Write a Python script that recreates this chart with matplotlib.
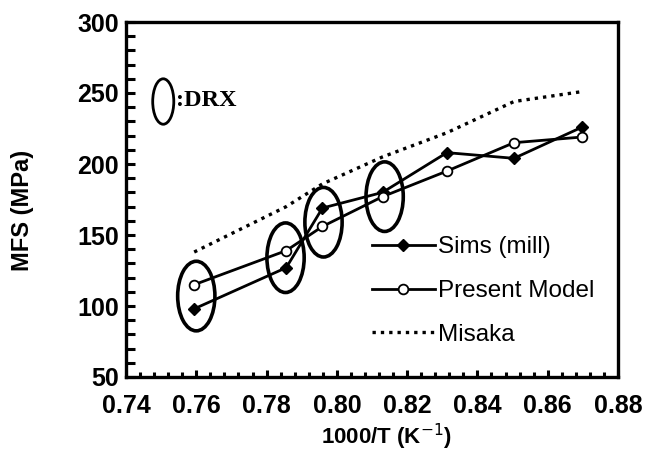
import matplotlib
matplotlib.use("Agg")
import matplotlib.pyplot as plt
from matplotlib.patches import Ellipse
from matplotlib.ticker import MultipleLocator
from matplotlib.lines import Line2D

# Data
inv_T = [0.7594, 0.7856, 0.7959, 0.8130, 0.8313, 0.8504, 0.8698]
sims = [98, 127, 169, 180, 208, 204, 226]
present = [115, 139, 156, 177, 195, 215, 219]
misaka = [138, 170, 186, 205, 222, 244, 251]

# DRX ellipse centres (annotation)
drx_x = [0.7600, 0.7854, 0.7962, 0.8136]
drx_y = [107, 134, 159, 177]

xticks = [0.74, 0.76, 0.78, 0.80, 0.82, 0.84, 0.86, 0.88]
yticks = [50, 100, 150, 200, 250, 300]

plt.rcParams['font.family'] = ['Liberation Sans', 'DejaVu Sans']

fig = plt.figure(figsize=(6.51, 4.55), dpi=100)
ax = fig.add_axes([126/651, 1-377/455, (618-126)/651, (377-22)/455])

dots = (0, (1.0, 1.5))
ax.plot(inv_T, misaka, color='black', lw=2.4, linestyle=dots, label='Misaka', zorder=2)
ax.plot(inv_T, sims, color='black', lw=2.0, marker='D', ms=6, mfc='black', mec='black', label='Sims (mill)', zorder=3)
ax.plot(inv_T, present, color='black', lw=2.0, marker='o', ms=7, mfc='white', mec='black', mew=1.3, label='Present Model', zorder=3)

for cx, cy in zip(drx_x, drx_y):
    ax.add_patch(Ellipse((cx, cy), 0.0106, 49, fill=False, ec='black', lw=2.6, zorder=4))

# DRX key
ax.add_patch(Ellipse((0.7506, 244), 0.006, 32, fill=False, ec='black', lw=2.0))
ax.text(0.7543, 245, ':DRX', family=['Liberation Serif', 'DejaVu Serif'], fontweight='bold',
        fontsize=17.5, va='center', ha='left')

ax.set_xlim(0.74, 0.88)
ax.set_ylim(50, 300)
ax.set_xticks(xticks)
ax.set_xticklabels([f"{v:.2f}" for v in xticks])
ax.set_yticks(yticks)
ax.xaxis.set_minor_locator(MultipleLocator(0.004))
ax.yaxis.set_minor_locator(MultipleLocator(10))
ax.tick_params(axis='both', which='both', direction='in', width=2.2, labelsize=18, top=False, right=False)
ax.tick_params(axis='y', which='both', length=6.5, pad=5)
ax.tick_params(axis='x', which='major', length=5, pad=12)
ax.tick_params(axis='x', which='minor', length=3.5)
for lab in ax.get_xticklabels() + ax.get_yticklabels():
    lab.set_fontweight('bold')
for s in ax.spines.values():
    s.set_linewidth(2.4)

ax.set_ylabel('MFS (MPa)', fontsize=17, fontweight='bold')
ax.yaxis.set_label_coords(-0.186, 0.47)
ax.set_xlabel('1000/T (K$^{-1}$)', fontsize=16, fontweight='bold')
ax.xaxis.set_label_coords(0.53, -0.125)

handles = [
    Line2D([], [], color='black', lw=2.0, marker='D', ms=6, mfc='black'),
    Line2D([], [], color='black', lw=2.0, marker='o', ms=7, mfc='white', mew=1.3),
    Line2D([], [], color='black', lw=2.4, linestyle=dots),
]
leg = ax.legend(handles, ['Sims (mill)', 'Present Model', 'Misaka'], loc='lower left',
                bbox_to_anchor=(0.48, 0.06), frameon=False, fontsize=17.5,
                handlelength=2.6, handletextpad=0.12, labelspacing=0.9, borderaxespad=0)

fig.savefig('out.png', dpi=100)
